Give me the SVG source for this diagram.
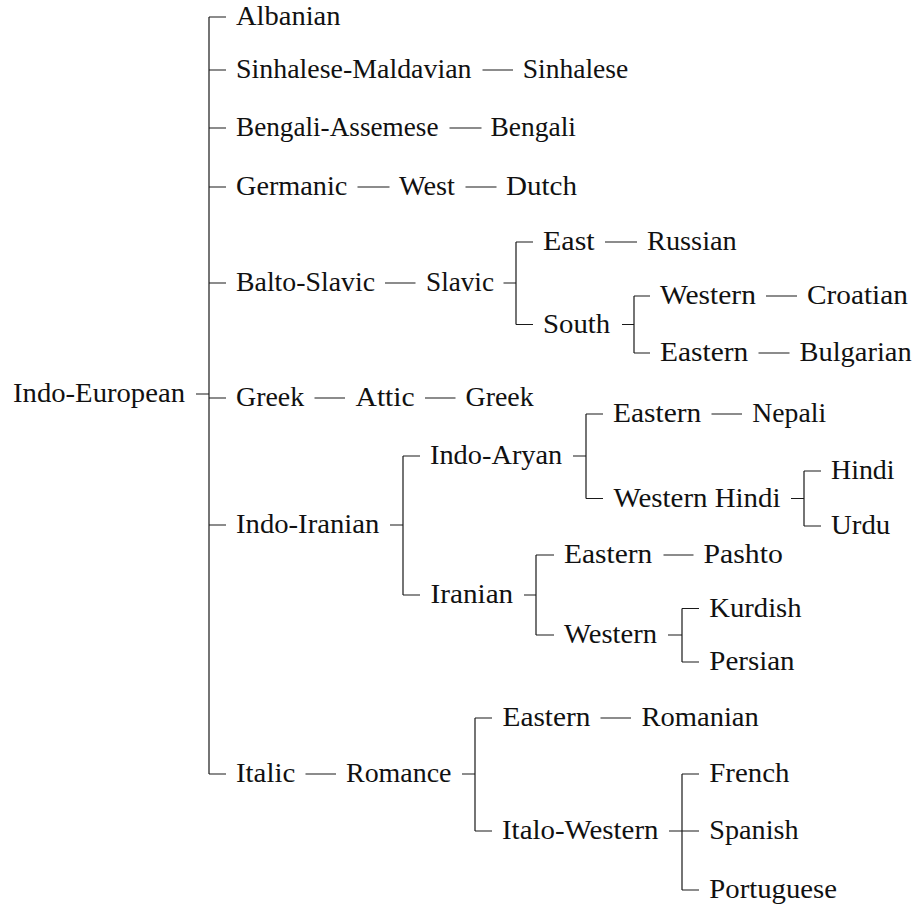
<svg xmlns="http://www.w3.org/2000/svg" width="917" height="905" viewBox="0 0 917 905">
<style>
.t{font-size:26.5px;fill:#111}
.e{stroke:#1a1a1a;stroke-width:1.2;fill:none;stroke-linecap:butt}
</style>
<rect width="917" height="905" fill="#fff"/>
<g id="connectors">
<path class="e" d="M196,394H209M209,17V774M209,17H226M209,70H226M209,128H226M209,187H226M209,283H226M209,398H226M209,525H226M209,774H226"/>
<path class="e" d="M482.5,70H513M449.5,128H481.5M357.5,187H389.5M465.5,187H496.5"/>
<path class="e" d="M385,283H415.5M503.5,283H516M516,242V324.5M516,242H533M516,324.5H533M605,242H637"/>
<path class="e" d="M622,324.5H634M634,296V353M634,296H650M634,353H650M766,296H797M758.5,353H789.5"/>
<path class="e" d="M314.5,398H345M425,398H455.5"/>
<path class="e" d="M390,525H403M403,456V595M403,456H420M403,595H420"/>
<path class="e" d="M573,456H586M586,414V498.5M586,414H603M586,498.5H603M711.5,414H742"/>
<path class="e" d="M791,498.5H804M804,471V526M804,471H821M804,526H821"/>
<path class="e" d="M524,595H536M536,555V635M536,555H554M536,635H554M663.5,555H693.5"/>
<path class="e" d="M668,635H682M682,608.5V662M682,608.5H699M682,662H699"/>
<path class="e" d="M305.5,774H336M462,774H475M475,718V831M475,718H492M475,831H492M600.5,718H631"/>
<path class="e" d="M669,831H699M682,774V890M682,774H699M682,890H699"/>
</g>
<g id="nodes" font-family="Liberation Serif, DejaVu Serif, serif">
<g id="n-indo-european"><text class="t" x="13" y="402" textLength="172" lengthAdjust="spacingAndGlyphs">Indo-European</text></g>
<g id="n-albanian"><text class="t" x="236" y="25" textLength="104.5" lengthAdjust="spacingAndGlyphs">Albanian</text></g>
<g id="n-sinhalese-maldavian"><text class="t" x="236" y="78" textLength="235.5" lengthAdjust="spacingAndGlyphs">Sinhalese-Maldavian</text></g>
<g id="n-sinhalese"><text class="t" x="522.7" y="78" textLength="105.5" lengthAdjust="spacingAndGlyphs">Sinhalese</text></g>
<g id="n-bengali-assemese"><text class="t" x="236" y="136" textLength="202.5" lengthAdjust="spacingAndGlyphs">Bengali-Assemese</text></g>
<g id="n-bengali"><text class="t" x="490.5" y="136" textLength="85.5" lengthAdjust="spacingAndGlyphs">Bengali</text></g>
<g id="n-germanic"><text class="t" x="236" y="195" textLength="111.3" lengthAdjust="spacingAndGlyphs">Germanic</text></g>
<g id="n-west"><text class="t" x="399" y="195" textLength="56" lengthAdjust="spacingAndGlyphs">West</text></g>
<g id="n-dutch"><text class="t" x="506" y="195" textLength="71" lengthAdjust="spacingAndGlyphs">Dutch</text></g>
<g id="n-balto-slavic"><text class="t" x="236" y="291" textLength="139" lengthAdjust="spacingAndGlyphs">Balto-Slavic</text></g>
<g id="n-slavic"><text class="t" x="426" y="291" textLength="68" lengthAdjust="spacingAndGlyphs">Slavic</text></g>
<g id="n-east"><text class="t" x="543" y="250" textLength="51.7" lengthAdjust="spacingAndGlyphs">East</text></g>
<g id="n-russian"><text class="t" x="647" y="250" textLength="89.8" lengthAdjust="spacingAndGlyphs">Russian</text></g>
<g id="n-south"><text class="t" x="543" y="332.5" textLength="67.2" lengthAdjust="spacingAndGlyphs">South</text></g>
<g id="n-western-slavic"><text class="t" x="660" y="304" textLength="95.9" lengthAdjust="spacingAndGlyphs">Western</text></g>
<g id="n-croatian"><text class="t" x="807" y="304" textLength="100.9" lengthAdjust="spacingAndGlyphs">Croatian</text></g>
<g id="n-eastern-slavic"><text class="t" x="660" y="361" textLength="88.3" lengthAdjust="spacingAndGlyphs">Eastern</text></g>
<g id="n-bulgarian"><text class="t" x="799.5" y="361" textLength="112.2" lengthAdjust="spacingAndGlyphs">Bulgarian</text></g>
<g id="n-greek-branch"><text class="t" x="236" y="406" textLength="68.2" lengthAdjust="spacingAndGlyphs">Greek</text></g>
<g id="n-attic"><text class="t" x="355.5" y="406" textLength="59.2" lengthAdjust="spacingAndGlyphs">Attic</text></g>
<g id="n-greek"><text class="t" x="465.5" y="406" textLength="68.2" lengthAdjust="spacingAndGlyphs">Greek</text></g>
<g id="n-indo-iranian"><text class="t" x="236" y="533" textLength="143.3" lengthAdjust="spacingAndGlyphs">Indo-Iranian</text></g>
<g id="n-indo-aryan"><text class="t" x="430" y="464" textLength="132.3" lengthAdjust="spacingAndGlyphs">Indo-Aryan</text></g>
<g id="n-eastern-indo-aryan"><text class="t" x="613" y="422" textLength="88.3" lengthAdjust="spacingAndGlyphs">Eastern</text></g>
<g id="n-nepali"><text class="t" x="752.3" y="422" textLength="73.8" lengthAdjust="spacingAndGlyphs">Nepali</text></g>
<g id="n-western-hindi"><text class="t" x="613.5" y="506.5" textLength="167" lengthAdjust="spacingAndGlyphs">Western Hindi</text></g>
<g id="n-hindi"><text class="t" x="831" y="479" textLength="63.6" lengthAdjust="spacingAndGlyphs">Hindi</text></g>
<g id="n-urdu"><text class="t" x="831" y="534" textLength="59.3" lengthAdjust="spacingAndGlyphs">Urdu</text></g>
<g id="n-iranian"><text class="t" x="430.5" y="603" textLength="82.7" lengthAdjust="spacingAndGlyphs">Iranian</text></g>
<g id="n-eastern-iranian"><text class="t" x="564" y="563" textLength="88.3" lengthAdjust="spacingAndGlyphs">Eastern</text></g>
<g id="n-pashto"><text class="t" x="703.5" y="563" textLength="79.4" lengthAdjust="spacingAndGlyphs">Pashto</text></g>
<g id="n-western-iranian"><text class="t" x="564" y="643" textLength="93" lengthAdjust="spacingAndGlyphs">Western</text></g>
<g id="n-kurdish"><text class="t" x="709.3" y="616.5" textLength="92.3" lengthAdjust="spacingAndGlyphs">Kurdish</text></g>
<g id="n-persian"><text class="t" x="709.3" y="670" textLength="85.3" lengthAdjust="spacingAndGlyphs">Persian</text></g>
<g id="n-italic"><text class="t" x="236" y="782" textLength="59.2" lengthAdjust="spacingAndGlyphs">Italic</text></g>
<g id="n-romance"><text class="t" x="346" y="782" textLength="105.5" lengthAdjust="spacingAndGlyphs">Romance</text></g>
<g id="n-eastern-romance"><text class="t" x="502.5" y="726" textLength="88" lengthAdjust="spacingAndGlyphs">Eastern</text></g>
<g id="n-romanian"><text class="t" x="641.5" y="726" textLength="117.3" lengthAdjust="spacingAndGlyphs">Romanian</text></g>
<g id="n-italo-western"><text class="t" x="502" y="839" textLength="156.5" lengthAdjust="spacingAndGlyphs">Italo-Western</text></g>
<g id="n-french"><text class="t" x="709.3" y="782" textLength="80.1" lengthAdjust="spacingAndGlyphs">French</text></g>
<g id="n-spanish"><text class="t" x="709.3" y="839" textLength="89.3" lengthAdjust="spacingAndGlyphs">Spanish</text></g>
<g id="n-portuguese"><text class="t" x="709.3" y="898" textLength="127.7" lengthAdjust="spacingAndGlyphs">Portuguese</text></g>
</g>
</svg>
